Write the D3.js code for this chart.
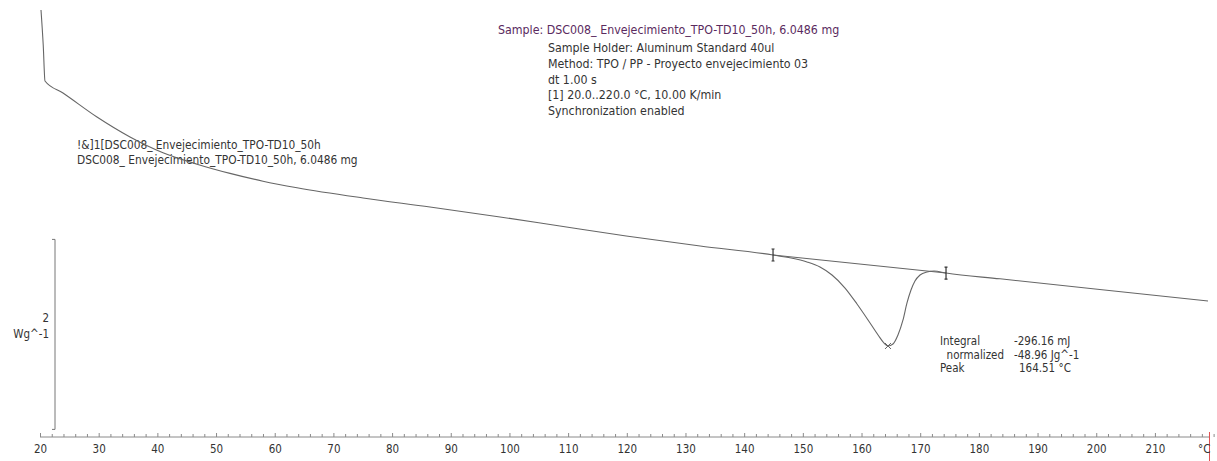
<!DOCTYPE html>
<html>
<head>
<meta charset="utf-8">
<script src="https://cdn.jsdelivr.net/npm/d3@7"></script>
<style>
  html, body { margin: 0; padding: 0; background: #fff; }
  svg { display: block; }
  text { font-family: "DejaVu Sans Condensed", "DejaVu Sans", sans-serif; font-stretch: condensed; }
</style>
</head>
<body>
<svg id="chart" width="1217" height="461"></svg>
<script>
// DSC heating curve: temperature (°C) and heat flow (W/g)
const temperature = [20.17, 20.55, 20.85, 23.92, 29.71, 35.34, 40.96, 46.76, 52.38, 58.0, 63.8, 75.05, 86.46,
  98.4, 108.6, 119.9, 132.5, 144.92, 148.0, 150.71, 152.92, 154.97, 157.19, 159.23, 161.11, 162.82,
  163.84, 164.51, 165.36, 166.21, 167.07, 167.75, 168.43, 169.11, 169.97, 171.16, 172.35, 174.4,
  183.6, 200.6, 219.05];
const heatFlow = [4.495, 4.126, 3.747, 3.621, 3.368, 3.158, 2.992, 2.872, 2.775, 2.693, 2.624, 2.516, 2.421,
  2.316, 2.221, 2.116, 2.011, 1.916, 1.884, 1.842, 1.789, 1.705, 1.568, 1.4, 1.232, 1.074,
  0.989, 0.958, 0.979, 1.074, 1.232, 1.411, 1.547, 1.642, 1.705, 1.737, 1.747, 1.726,
  1.665, 1.553, 1.432];

// Integration limits and baseline end values
const integrationT = [144.92, 174.4];
const integrationV = [1.916, 1.726];
const peakT = 164.51;
const peakV = 0.958;

// Axis ticks
const majorTicks = [20, 30, 40, 50, 60, 70, 80, 90, 100, 110, 120, 130, 140, 150, 160, 170, 180, 190, 200, 210];
const minorTicks = d3.range(20, 221, 2);
const axisUnit = "°C";

// Scale bar (2 W/g)
const scaleBarFrom = 0.08;
const scaleBarSize = 2;
const scaleBarLabel = ["2", "Wg^-1"];

// Text blocks
const headerTitle = "Sample: DSC008_ Envejecimiento_TPO-TD10_50h, 6.0486 mg";
const headerLines = [
  "Sample Holder: Aluminum Standard 40ul",
  "Method: TPO / PP - Proyecto envejecimiento 03",
  "dt 1.00 s",
  "[1] 20.0..220.0 °C, 10.00 K/min",
  "Synchronization enabled"
];
const curveLabels = [
  "!&]1[DSC008_ Envejecimiento_TPO-TD10_50h",
  "DSC008_ Envejecimiento_TPO-TD10_50h, 6.0486 mg"
];
const resultNames = ["Integral", "  normalized", "Peak"];
const resultValues = ["-296.16 mJ", "-48.96 Jg^-1", "164.51 °C"];

const svg = d3.select("#chart");
const x = d3.scaleLinear().domain([20, 220]).range([40, 1213.6]);
const y = d3.scaleLinear().domain([0, 4.5]).range([437, 9.5]);
const axisY = 437;

// Temperature axis: ticks point upward, labels below
const tickAxis = d3.axisTop(x).tickValues(minorTicks).tickSize(3).tickFormat("");
const gTicks = svg.append("g").attr("transform", `translate(0,${axisY})`).call(tickAxis);
gTicks.select(".domain").attr("stroke", "#8a8a8a").attr("d", `M${x(20)},0H${x(219.3)}`);
gTicks.selectAll(".tick line").attr("stroke", "#8a8a8a")
  .attr("y2", d => majorTicks.includes(d) ? -4 : -3);

const labelAxis = d3.axisBottom(x).tickValues(majorTicks).tickSize(0).tickPadding(8);
const gLabels = svg.append("g").attr("transform", `translate(0,${axisY})`).call(labelAxis);
gLabels.select(".domain").remove();
gLabels.selectAll(".tick text")
  .attr("font-size", 11.5).attr("fill", "#333")
  .style("font-family", '"DejaVu Sans Condensed", "DejaVu Sans", sans-serif');

svg.append("line")
  .attr("x1", x(219.3)).attr("x2", x(219.3))
  .attr("y1", axisY - 5).attr("y2", 461)
  .attr("stroke", "#e05050").attr("stroke-width", 1);
svg.append("text")
  .attr("x", x(218.4)).attr("y", axisY + 16)
  .attr("text-anchor", "middle").attr("font-size", 11.5).attr("fill", "#333")
  .text(axisUnit);

// Scale bar
const sbTop = y(scaleBarFrom + scaleBarSize), sbBot = y(scaleBarFrom);
svg.append("path")
  .attr("d", `M52,${sbTop}H55V${sbBot}H52`)
  .attr("fill", "none").attr("stroke", "#777").attr("stroke-width", 1);
svg.append("text").attr("x", 49).attr("y", 322).attr("text-anchor", "end")
  .attr("font-size", 11.5).attr("fill", "#333").text(scaleBarLabel[0]);
svg.append("text").attr("x", 49).attr("y", 338).attr("text-anchor", "end")
  .attr("font-size", 11.5).attr("fill", "#333").text(scaleBarLabel[1]);

// Header
svg.append("text").attr("x", 498).attr("y", 34)
  .attr("font-size", 12.3).attr("fill", "#5a2a5e").text(headerTitle);
svg.selectAll("text.hdr").data(headerLines).enter().append("text")
  .attr("class", "hdr")
  .attr("x", 548).attr("y", (d, i) => 52 + i * 15.8)
  .attr("font-size", 12.3).attr("fill", "#333").text(d => d);

// Curve labels
svg.selectAll("text.clab").data(curveLabels).enter().append("text")
  .attr("class", "clab")
  .attr("x", 77).attr("y", (d, i) => 149 + i * 15)
  .attr("font-size", 11.8).attr("fill", "#333").text(d => d);

// Heat flow curve
const data = temperature.map((t, i) => [t, heatFlow[i]]);
const line = d3.line().x(d => x(d[0])).y(d => y(d[1])).curve(d3.curveMonotoneX);
svg.append("path").datum(data)
  .attr("d", line)
  .attr("fill", "none").attr("stroke", "#666").attr("stroke-width", 1.1);

// Integration baseline
svg.append("line")
  .attr("x1", x(integrationT[0])).attr("y1", y(integrationV[0]))
  .attr("x2", x(integrationT[1])).attr("y2", y(integrationV[1]))
  .attr("stroke", "#666").attr("stroke-width", 1.1);

// Integration limit markers
integrationT.forEach((t, i) => {
  const cx = x(t), cy = y(integrationV[i]);
  svg.append("path")
    .attr("d", `M${cx},${cy - 6}V${cy + 6}M${cx - 1.5},${cy - 6}H${cx + 1.5}M${cx - 1.5},${cy + 6}H${cx + 1.5}`)
    .attr("stroke", "#333").attr("stroke-width", 1.2).attr("fill", "none");
});

// Peak marker
{
  const px = x(peakT), py = y(peakV);
  svg.append("path")
    .attr("d", `M${px - 3},${py - 3}L${px + 3},${py + 3}M${px - 3},${py + 3}L${px + 3},${py - 3}`)
    .attr("stroke", "#666").attr("stroke-width", 1);
}

// Evaluation results
resultNames.forEach((n, i) => {
  svg.append("text").attr("x", 940).attr("y", 345 + i * 13.5)
    .attr("font-size", 11.5).attr("fill", "#333").attr("xml:space", "preserve")
    .style("white-space", "pre").text(n);
  svg.append("text").attr("x", i === 2 ? 1019 : 1014).attr("y", 345 + i * 13.5)
    .attr("font-size", 11.5).attr("fill", "#333").text(resultValues[i]);
});
</script>
</body>
</html>
